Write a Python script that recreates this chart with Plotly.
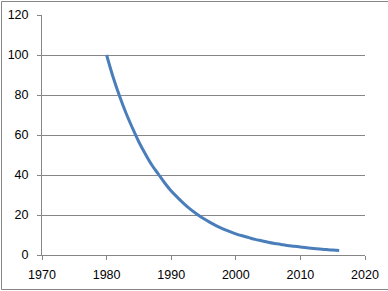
import plotly.graph_objects as go

years = list(range(1980, 2017))
values = [100, 89, 79.5, 71, 63.5, 56.5, 50.5, 45, 40.5, 36,
          32, 28.7, 25.6, 22.8, 20.4, 18.2, 16.3, 14.6, 13.1, 11.8,
          10.6, 9.6, 8.7, 7.8, 7.1, 6.4, 5.8, 5.3, 4.8, 4.4,
          4.0, 3.6, 3.3, 3.0, 2.7, 2.5, 2.3]

x_ticks = [1970, 1980, 1990, 2000, 2010, 2020]
y_ticks = [0, 20, 40, 60, 80, 100, 120]

W, H = 388, 291
L, R, T, B = 42, 23, 15, 36
pw, ph = W - L - R, H - T - B

def px2x(px):
    return (px - L) / pw

def py2y(py):
    return (H - B - py) / ph

fig = go.Figure()
fig.add_trace(go.Scatter(x=years, y=values, mode="lines",
                         line=dict(color="#4A7EBB", width=3, shape="spline"),
                         hoverinfo="skip"))

gray = "#868686"
fig.update_layout(
    width=W, height=H,
    margin=dict(l=L, r=R, t=T, b=B, pad=0, autoexpand=False),
    paper_bgcolor="white", plot_bgcolor="white",
    showlegend=False,
    font=dict(family="Liberation Sans, Arial, sans-serif", size=12.5, color="black"),
    xaxis=dict(range=[1970, 2020], tickvals=x_ticks, ticks="outside", ticklen=4,
               tickcolor=gray, showline=True, linecolor=gray, linewidth=1,
               showgrid=False, zeroline=False, fixedrange=True,
               ticklabelstandoff=4, automargin=False),
    yaxis=dict(range=[0, 120], tickvals=y_ticks, ticks="outside", ticklen=4,
               tickcolor=gray, showline=True, linecolor=gray, linewidth=1,
               showgrid=True, gridcolor=gray, gridwidth=1, zeroline=False,
               fixedrange=True, ticklabelstandoff=6, automargin=False),
    shapes=[
        dict(type="line", xref="paper", yref="paper", x0=px2x(1.5), x1=px2x(395),
             y0=py2y(1.5), y1=py2y(1.5), line=dict(color=gray, width=1)),
        dict(type="line", xref="paper", yref="paper", x0=px2x(1.5), x1=px2x(395),
             y0=py2y(289.5), y1=py2y(289.5), line=dict(color=gray, width=1)),
        dict(type="line", xref="paper", yref="paper", x0=px2x(1.5), x1=px2x(1.5),
             y0=py2y(1.5), y1=py2y(289.5), line=dict(color=gray, width=1)),
    ],
)

fig.write_html("out.html", config={"displayModeBar": False})
